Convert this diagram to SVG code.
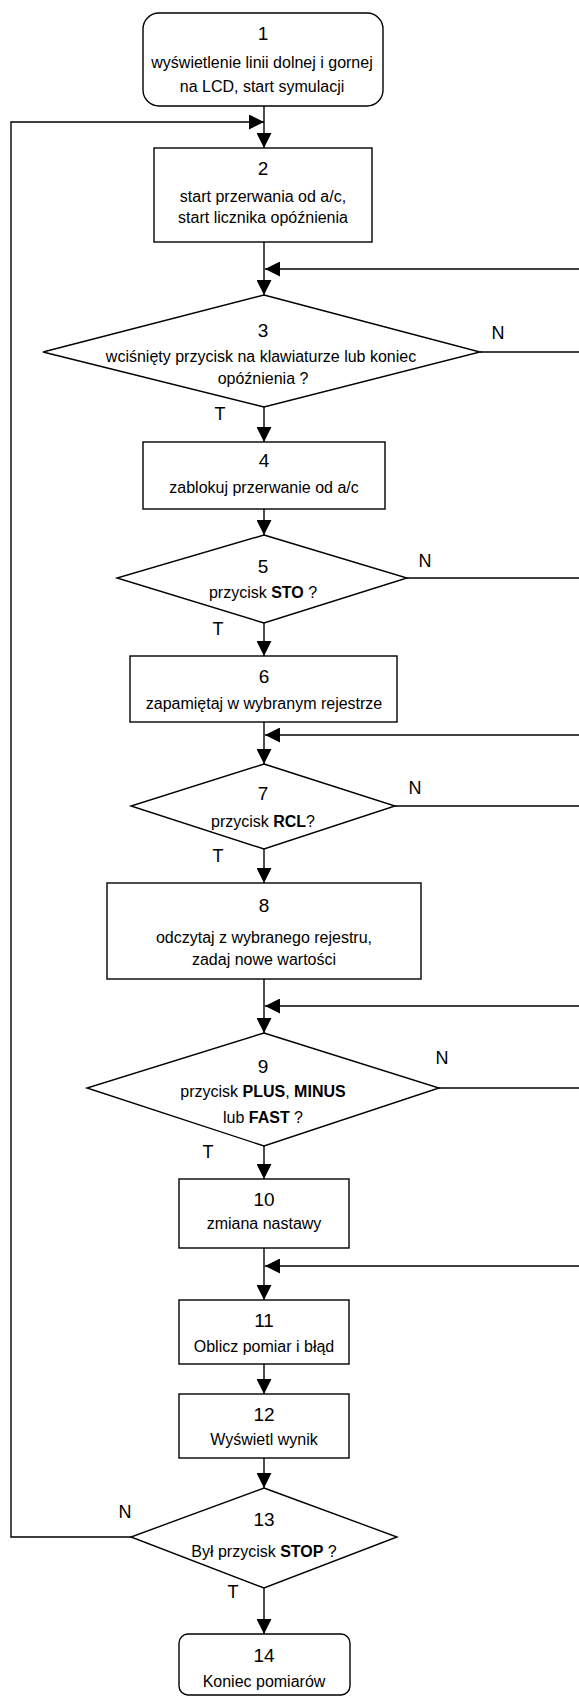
<svg xmlns="http://www.w3.org/2000/svg" width="579" height="1697" viewBox="0 0 579 1697">
<style>
.s{fill:#fff;stroke:#000;stroke-width:1.4}
.c{fill:none;stroke:#000;stroke-width:1.4}
text{font-family:"Liberation Sans",Arial,sans-serif;fill:#000;text-anchor:middle}
.n{font-size:19px}
.t{font-size:16px}
.l{font-size:18px}
.b{font-weight:bold}
</style>
<defs>
<marker id="ah" markerUnits="userSpaceOnUse" markerWidth="16" markerHeight="15" refX="15" refY="7.5" orient="auto">
<path d="M0,0 L15,7.5 L0,15 z" fill="#000"/>
</marker>
</defs>
<g id="connectors">
<line class="c" x1="264" y1="106" x2="264" y2="148" marker-end="url(#ah)"/>
<polyline class="c" points="131,1537 11,1537 11,122 264,122" marker-end="url(#ah)"/>
<line class="c" x1="264" y1="242" x2="264" y2="295" marker-end="url(#ah)"/>
<line class="c" x1="579" y1="269" x2="265" y2="269" marker-end="url(#ah)"/>
<line class="c" x1="480" y1="352" x2="579" y2="352"/>
<line class="c" x1="264" y1="407" x2="264" y2="442" marker-end="url(#ah)"/>
<line class="c" x1="264" y1="509" x2="264" y2="535" marker-end="url(#ah)"/>
<line class="c" x1="407" y1="578" x2="579" y2="578"/>
<line class="c" x1="264" y1="623" x2="264" y2="656" marker-end="url(#ah)"/>
<line class="c" x1="264" y1="722" x2="264" y2="764" marker-end="url(#ah)"/>
<line class="c" x1="579" y1="735" x2="265" y2="735" marker-end="url(#ah)"/>
<line class="c" x1="395" y1="806" x2="579" y2="806"/>
<line class="c" x1="264" y1="849" x2="264" y2="883" marker-end="url(#ah)"/>
<line class="c" x1="264" y1="979" x2="264" y2="1033" marker-end="url(#ah)"/>
<line class="c" x1="579" y1="1006" x2="265" y2="1006" marker-end="url(#ah)"/>
<line class="c" x1="439" y1="1088" x2="579" y2="1088"/>
<line class="c" x1="264" y1="1146" x2="264" y2="1179" marker-end="url(#ah)"/>
<line class="c" x1="264" y1="1248" x2="264" y2="1300" marker-end="url(#ah)"/>
<line class="c" x1="579" y1="1266" x2="265" y2="1266" marker-end="url(#ah)"/>
<line class="c" x1="264" y1="1364" x2="264" y2="1394" marker-end="url(#ah)"/>
<line class="c" x1="264" y1="1458" x2="264" y2="1488" marker-end="url(#ah)"/>
<line class="c" x1="264" y1="1588" x2="264" y2="1634" marker-end="url(#ah)"/>
<text class="l" x="498" y="339">N</text>
<text class="l" x="220" y="420">T</text>
<text class="l" x="425" y="567">N</text>
<text class="l" x="218" y="635">T</text>
<text class="l" x="415" y="794">N</text>
<text class="l" x="218" y="862">T</text>
<text class="l" x="442" y="1064">N</text>
<text class="l" x="208" y="1158">T</text>
<text class="l" x="125" y="1518">N</text>
<text class="l" x="233" y="1598">T</text>
</g>
<g id="node1">
<rect class="s" x="143" y="13" width="240" height="93" rx="16"/>
<text class="n" x="263" y="40">1</text>
<text class="t" x="262" y="68">wyświetlenie linii dolnej i gornej</text>
<text class="t" x="262" y="92">na LCD, start symulacji</text>
</g>
<g id="node2">
<rect class="s" x="154" y="148" width="218" height="94"/>
<text class="n" x="263" y="175">2</text>
<text class="t" x="263" y="202">start przerwania od a/c,</text>
<text class="t" x="263" y="223">start licznika opóźnienia</text>
</g>
<g id="node3">
<polygon class="s" points="264,295 480,352 264,407 43,352"/>
<text class="n" x="263" y="337">3</text>
<text class="t" x="261" y="362">wciśnięty przycisk na klawiaturze lub koniec</text>
<text class="t" x="263" y="384">opóźnienia ?</text>
</g>
<g id="node4">
<rect class="s" x="143" y="442" width="242" height="67"/>
<text class="n" x="264" y="467">4</text>
<text class="t" x="264" y="493">zablokuj przerwanie od a/c</text>
</g>
<g id="node5">
<polygon class="s" points="264,535 407,578 264,623 117,578"/>
<text class="n" x="263" y="573">5</text>
<text class="t" x="263" y="598">przycisk <tspan class="b">STO</tspan> ?</text>
</g>
<g id="node6">
<rect class="s" x="130" y="656" width="267" height="66"/>
<text class="n" x="264" y="683">6</text>
<text class="t" x="264" y="709">zapamiętaj w wybranym rejestrze</text>
</g>
<g id="node7">
<polygon class="s" points="264,764 395,806 264,849 131,806"/>
<text class="n" x="263" y="800">7</text>
<text class="t" x="263" y="827">przycisk <tspan class="b">RCL</tspan>?</text>
</g>
<g id="node8">
<rect class="s" x="107" y="883" width="314" height="96"/>
<text class="n" x="264" y="912">8</text>
<text class="t" x="264" y="943">odczytaj z wybranego rejestru,</text>
<text class="t" x="264" y="965">zadaj nowe wartości</text>
</g>
<g id="node9">
<polygon class="s" points="264,1033 439,1088 264,1146 87,1088"/>
<text class="n" x="263" y="1073">9</text>
<text class="t" x="263" y="1097">przycisk <tspan class="b">PLUS</tspan>, <tspan class="b">MINUS</tspan></text>
<text class="t" x="263" y="1123">lub <tspan class="b">FAST</tspan> ?</text>
</g>
<g id="node10">
<rect class="s" x="179" y="1179" width="170" height="69"/>
<text class="n" x="264" y="1206">10</text>
<text class="t" x="264" y="1229">zmiana nastawy</text>
</g>
<g id="node11">
<rect class="s" x="179" y="1300" width="170" height="64"/>
<text class="n" x="264" y="1327">11</text>
<text class="t" x="264" y="1352">Oblicz pomiar i błąd</text>
</g>
<g id="node12">
<rect class="s" x="179" y="1394" width="170" height="64"/>
<text class="n" x="264" y="1421">12</text>
<text class="t" x="264" y="1445">Wyświetl wynik</text>
</g>
<g id="node13">
<polygon class="s" points="264,1488 397,1537 264,1588 131,1537"/>
<text class="n" x="264" y="1526">13</text>
<text class="t" x="264" y="1557">Był przycisk <tspan class="b">STOP</tspan> ?</text>
</g>
<g id="node14">
<rect class="s" x="179" y="1634" width="171" height="61" rx="9"/>
<text class="n" x="264" y="1662">14</text>
<text class="t" x="264" y="1687">Koniec pomiarów</text>
</g>
</svg>
